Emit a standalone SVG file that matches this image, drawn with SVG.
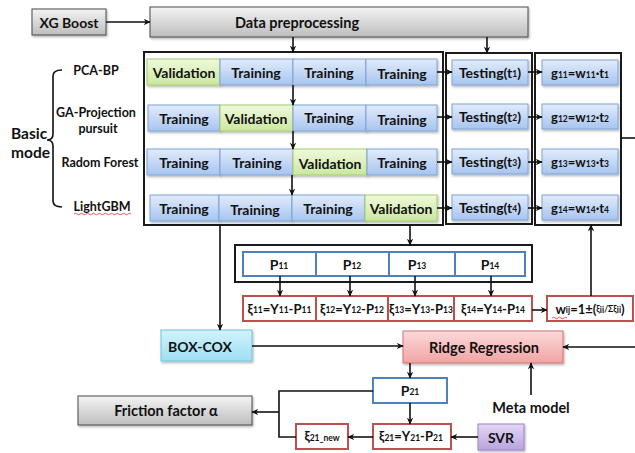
<svg xmlns="http://www.w3.org/2000/svg" width="635" height="453" viewBox="0 0 635 453">
  <defs>
    <linearGradient id="gGray" x1="0" y1="0" x2="0" y2="1">
      <stop offset="0" stop-color="#f4f4f4"/>
      <stop offset="1" stop-color="#bdbdbd"/>
    </linearGradient>
    <linearGradient id="gBlue" x1="0" y1="0" x2="0" y2="1">
      <stop offset="0" stop-color="#e2ecfb"/>
      <stop offset="1" stop-color="#a7c4ef"/>
    </linearGradient>
    <linearGradient id="gGreen" x1="0" y1="0" x2="0" y2="1">
      <stop offset="0" stop-color="#f0f9dc"/>
      <stop offset="1" stop-color="#cbe79f"/>
    </linearGradient>
    <linearGradient id="gCyan" x1="0" y1="0" x2="0" y2="1">
      <stop offset="0" stop-color="#d2f3fc"/>
      <stop offset="1" stop-color="#9ddff3"/>
    </linearGradient>
    <linearGradient id="gPink" x1="0" y1="0" x2="0" y2="1">
      <stop offset="0" stop-color="#fcdada"/>
      <stop offset="1" stop-color="#f1a3a3"/>
    </linearGradient>
    <linearGradient id="gPurple" x1="0" y1="0" x2="0" y2="1">
      <stop offset="0" stop-color="#e2d7f3"/>
      <stop offset="1" stop-color="#b9a3de"/>
    </linearGradient>
    <filter id="shadow" x="-10%" y="-20%" width="130%" height="150%">
      <feDropShadow dx="1" dy="1.5" stdDeviation="1" flood-color="#000" flood-opacity="0.3"/>
    </filter>
    <marker id="arrow" viewBox="0 0 10 10" refX="9" refY="5" markerWidth="7" markerHeight="7" orient="auto-start-reverse" markerUnits="userSpaceOnUse">
      <path d="M0,0.5 L10,5 L0,9.5 L3,5 Z" fill="#111"/>
    </marker>
    <style>
      text { font-family: Lato, "Open Sans", "Liberation Sans", sans-serif; font-weight: bold; fill: #111; text-anchor: middle; dominant-baseline: central; }
      .t14 { font-size: 14px; }
      .t145 { font-size: 14.5px; }
      .t13 { font-size: 13px; }
      .t12 { font-size: 12.5px; }
      .t15 { font-size: 15.5px; text-anchor: start; }
      .sub { font-size: 8.5px; }
      .gray { fill: url(#gGray); stroke: #4a4a4a; stroke-width: 1; filter: url(#shadow); }
      .blue { fill: url(#gBlue); stroke: #7fa4d9; stroke-width: 1; filter: url(#shadow); }
      .green { fill: url(#gGreen); stroke: #a3cf6a; stroke-width: 1; filter: url(#shadow); }
      .cyan { fill: url(#gCyan); stroke: #72c3de; stroke-width: 1; filter: url(#shadow); }
      .pink { fill: url(#gPink); stroke: #d47474; stroke-width: 1; filter: url(#shadow); }
      .purple { fill: url(#gPurple); stroke: #9c84c9; stroke-width: 1; filter: url(#shadow); }
      .frame { fill: none; stroke: #1a1a1a; stroke-width: 2; }
      .pbox { fill: #fff; stroke: #4f81bd; stroke-width: 2; }
      .ebox { fill: #fff; stroke: #c0504d; stroke-width: 2; }
      .wire { fill: none; stroke: #111; stroke-width: 1.6; }
      .arr { fill: none; stroke: #111; stroke-width: 1.6; marker-end: url(#arrow); }
      .squig { fill: none; stroke: #e03030; stroke-width: 0.8; }
    </style>
  </defs>

  <rect width="635" height="453" fill="#fff"/>

  <!-- input and preprocessing -->
  <g id="xgboost">
    <rect class="gray" x="32" y="9" width="74" height="26"/>
    <text class="t14" x="69" y="22">XG Boost</text>
  </g>
  <g id="preprocessing">
    <rect class="gray" x="150" y="7" width="378" height="30"/>
    <text class="t145" x="297" y="22">Data preprocessing</text>
  </g>

  <!-- base model labels and brace -->
  <g id="basic-mode">
    <text class="t15" x="11" y="133">Basic</text>
    <text class="t15" x="11" y="152">mode</text>
    <path class="wire" d="M62,70 Q53,70 53,76 L53,134 Q53,140 47,140 Q53,140 53,146 L53,201 Q53,207 62,207"/>
  </g>
  <g id="model-labels">
    <text class="t12" x="96" y="70">PCA-BP</text>
    <text class="t12" x="96" y="112">GA-Projection</text>
    <text class="t12" x="98" y="128">pursuit</text>
    <text class="t12" x="100" y="162">Radom Forest</text>
    <text class="t12" x="102" y="206">LightGBM</text>
    <path class="squig" d="M74,214 q1.5,-1.5 3,0 t3,0 t3,0 t3,0 t3,0 t3,0 t3,0 t3,0 t3,0 t3,0 t3,0 t3,0 t3,0 t3,0 t3,0 t3,0 t3,0 t3,0 t3,0"/>
  </g>

  <!-- cross-validation folds -->
  <g id="folds">
    <rect class="frame" x="144" y="52" width="299" height="173"/>
    <g id="fold-1">
      <rect class="green" x="147" y="59" width="73" height="26"/>
      <rect class="blue" x="220" y="59" width="73" height="26"/>
      <rect class="blue" x="293" y="59" width="73" height="26"/>
      <rect class="blue" x="366" y="59" width="71" height="26"/>
      <text class="t14" x="184" y="72">Validation</text>
      <text class="t14" x="256" y="72">Training</text>
      <text class="t14" x="329" y="72">Training</text>
      <text class="t14" x="402" y="73">Training</text>
    </g>
    <g id="fold-2">
      <rect class="blue" x="148" y="105" width="72" height="26"/>
      <rect class="green" x="220" y="105" width="73" height="26"/>
      <rect class="blue" x="293" y="105" width="73" height="26"/>
      <rect class="blue" x="366" y="105" width="71" height="26"/>
      <text class="t14" x="184" y="118">Training</text>
      <text class="t14" x="256" y="118">Validation</text>
      <text class="t14" x="329" y="117">Training</text>
      <text class="t14" x="402" y="119">Training</text>
    </g>
    <g id="fold-3">
      <rect class="blue" x="147" y="149" width="73" height="26"/>
      <rect class="blue" x="220" y="149" width="73" height="26"/>
      <rect class="green" x="293" y="149" width="74" height="26"/>
      <rect class="blue" x="367" y="149" width="70" height="26"/>
      <text class="t14" x="184" y="162">Training</text>
      <text class="t14" x="257" y="162">Training</text>
      <text class="t14" x="330" y="163">Validation</text>
      <text class="t14" x="402" y="162">Training</text>
    </g>
    <g id="fold-4">
      <rect class="blue" x="150" y="195" width="69" height="26"/>
      <rect class="blue" x="219" y="195" width="73" height="26"/>
      <rect class="blue" x="292" y="195" width="73" height="26"/>
      <rect class="green" x="365" y="195" width="72" height="26"/>
      <text class="t14" x="184" y="208">Training</text>
      <text class="t14" x="255" y="209">Training</text>
      <text class="t14" x="328" y="208">Training</text>
      <text class="t14" x="401" y="208">Validation</text>
    </g>
  </g>

  <!-- testing stage -->
  <g id="testing">
    <rect class="frame" x="446" y="53" width="86" height="171"/>
    <g id="testing-1">
      <rect class="blue" x="452" y="60" width="76" height="25"/>
      <text class="t14" x="490" y="72">Testing(t<tspan class="sub" dy="2">1</tspan><tspan dy="-2">)</tspan></text>
    </g>
    <g id="testing-2">
      <rect class="blue" x="452" y="104" width="76" height="25"/>
      <text class="t14" x="490" y="116">Testing(t<tspan class="sub" dy="2">2</tspan><tspan dy="-2">)</tspan></text>
    </g>
    <g id="testing-3">
      <rect class="blue" x="452" y="149" width="76" height="25"/>
      <text class="t14" x="490" y="161">Testing(t<tspan class="sub" dy="2">3</tspan><tspan dy="-2">)</tspan></text>
    </g>
    <g id="testing-4">
      <rect class="blue" x="452" y="195" width="76" height="25"/>
      <text class="t14" x="490" y="207">Testing(t<tspan class="sub" dy="2">4</tspan><tspan dy="-2">)</tspan></text>
    </g>
  </g>

  <!-- weighted outputs -->
  <g id="weights">
    <rect class="frame" x="535" y="53" width="86" height="172"/>
    <g id="g11">
      <rect class="blue" x="542" y="60" width="76" height="25"/>
      <text class="t13" x="580" y="73">g<tspan class="sub" dy="1.5">11</tspan><tspan dy="-1.5">=w</tspan><tspan class="sub" dy="1.5">11</tspan><tspan dy="-1.5">·t</tspan><tspan class="sub" dy="1.5">1</tspan></text>
    </g>
    <g id="g12">
      <rect class="blue" x="542" y="104" width="76" height="25"/>
      <text class="t13" x="580" y="117">g<tspan class="sub" dy="1.5">12</tspan><tspan dy="-1.5">=w</tspan><tspan class="sub" dy="1.5">12</tspan><tspan dy="-1.5">·t</tspan><tspan class="sub" dy="1.5">2</tspan></text>
    </g>
    <g id="g13">
      <rect class="blue" x="542" y="149" width="76" height="25"/>
      <text class="t13" x="580" y="162">g<tspan class="sub" dy="1.5">13</tspan><tspan dy="-1.5">=w</tspan><tspan class="sub" dy="1.5">13</tspan><tspan dy="-1.5">·t</tspan><tspan class="sub" dy="1.5">3</tspan></text>
    </g>
    <g id="g14">
      <rect class="blue" x="542" y="195" width="76" height="25"/>
      <text class="t13" x="580" y="208">g<tspan class="sub" dy="1.5">14</tspan><tspan dy="-1.5">=w</tspan><tspan class="sub" dy="1.5">14</tspan><tspan dy="-1.5">·t</tspan><tspan class="sub" dy="1.5">4</tspan></text>
    </g>
  </g>

  <!-- fold predictions -->
  <g id="predictions">
    <rect class="frame" x="235" y="245" width="297" height="37"/>
    <g id="p11">
      <rect class="pbox" x="243" y="252" width="73" height="24"/>
      <text class="t14" x="279" y="264">P<tspan class="sub" dy="2">11</tspan></text>
    </g>
    <g id="p12">
      <rect class="pbox" x="316" y="252" width="73" height="24"/>
      <text class="t14" x="352" y="264">P<tspan class="sub" dy="2">12</tspan></text>
    </g>
    <g id="p13">
      <rect class="pbox" x="389" y="252" width="66" height="24"/>
      <text class="t14" x="417" y="264">P<tspan class="sub" dy="2">13</tspan></text>
    </g>
    <g id="p14">
      <rect class="pbox" x="455" y="252" width="70" height="24"/>
      <text class="t14" x="490" y="264">P<tspan class="sub" dy="2">14</tspan></text>
    </g>
  </g>

  <!-- residuals -->
  <g id="residuals">
    <g id="e11">
      <rect class="ebox" x="243" y="296" width="73" height="25"/>
      <text class="t13" x="279.5" y="308.5">ξ<tspan class="sub" dy="1.5">11</tspan><tspan dy="-1.5">=Y</tspan><tspan class="sub" dy="1.5">11</tspan><tspan dy="-1.5">-P</tspan><tspan class="sub" dy="1.5">11</tspan></text>
    </g>
    <g id="e12">
      <rect class="ebox" x="316" y="296" width="72" height="25"/>
      <text class="t13" x="352" y="308.5">ξ<tspan class="sub" dy="1.5">12</tspan><tspan dy="-1.5">=Y</tspan><tspan class="sub" dy="1.5">12</tspan><tspan dy="-1.5">-P</tspan><tspan class="sub" dy="1.5">12</tspan></text>
    </g>
    <g id="e13">
      <rect class="ebox" x="388" y="296" width="66" height="25"/>
      <text class="t13" x="421" y="308.5">ξ<tspan class="sub" dy="1.5">13</tspan><tspan dy="-1.5">=Y</tspan><tspan class="sub" dy="1.5">13</tspan><tspan dy="-1.5">-P</tspan><tspan class="sub" dy="1.5">13</tspan></text>
    </g>
    <g id="e14">
      <rect class="ebox" x="454" y="296" width="78" height="25"/>
      <text class="t13" x="493" y="308.5">ξ<tspan class="sub" dy="1.5">14</tspan><tspan dy="-1.5">=Y</tspan><tspan class="sub" dy="1.5">14</tspan><tspan dy="-1.5">-P</tspan><tspan class="sub" dy="1.5">14</tspan></text>
    </g>
  </g>
  <g id="weight-rule">
    <rect class="ebox" x="547" y="296" width="86" height="25"/>
    <text class="t13" x="590" y="308.5">w<tspan class="sub" dy="1.5">ij</tspan><tspan dy="-1.5">=1±(</tspan><tspan class="sub">ξ<tspan dy="1">ii</tspan><tspan dy="-1">/Σξ</tspan><tspan dy="1">ii</tspan></tspan><tspan dy="-1">)</tspan></text>
    <path class="squig" d="M552,318 q1.5,-1.5 3,0 t3,0 t3,0 t3,0 t3,0"/>
  </g>

  <!-- meta stage -->
  <g id="box-cox">
    <rect class="cyan" x="161" y="330" width="91" height="31"/>
    <text class="t14" x="200" y="346">BOX-COX</text>
  </g>
  <g id="ridge-regression">
    <rect class="pink" x="403" y="331" width="160" height="32"/>
    <text class="t145" x="484" y="347">Ridge Regression</text>
  </g>
  <g id="meta-model">
    <text class="t145" x="531" y="407">Meta model</text>
  </g>
  <g id="p21">
    <rect class="pbox" x="373" y="378" width="74" height="25"/>
    <text class="t14" x="410" y="390">P<tspan class="sub" dy="2">21</tspan></text>
  </g>
  <g id="friction-factor">
    <rect class="gray" x="78" y="396" width="174" height="29"/>
    <text class="t145" x="166" y="410">Friction factor α</text>
  </g>
  <g id="e21-new">
    <rect class="ebox" x="296" y="424" width="52" height="25"/>
    <text class="t13" x="322" y="436">ξ<tspan class="sub" dy="1.5">21_new</tspan></text>
  </g>
  <g id="e21">
    <rect class="ebox" x="373" y="424" width="78" height="25"/>
    <text class="t13" x="411" y="436">ξ<tspan class="sub" dy="1.5">21</tspan><tspan dy="-1.5">=Y</tspan><tspan class="sub" dy="1.5">21</tspan><tspan dy="-1.5">-P</tspan><tspan class="sub" dy="1.5">21</tspan></text>
  </g>
  <g id="svr">
    <rect class="purple" x="478" y="424" width="46" height="26"/>
    <text class="t14" x="501" y="437">SVR</text>
  </g>

  <!-- connectors -->
  <g id="connectors">
    <path class="arr" d="M106,22 L150,22"/>
    <path class="arr" d="M293,37 L293,52"/>
    <path class="arr" d="M487,37 L487,53"/>
    <path class="arr" d="M293,85 L293,105"/>
    <path class="arr" d="M293,131 L293,149"/>
    <path class="arr" d="M292,175 L292,195"/>
    <path class="arr" d="M437,72 L452,72"/>
    <path class="arr" d="M437,117 L452,117"/>
    <path class="arr" d="M437,162 L452,162"/>
    <path class="arr" d="M437,208 L452,208"/>
    <path class="arr" d="M528,72 L542,72"/>
    <path class="arr" d="M528,117 L542,117"/>
    <path class="arr" d="M528,162 L542,162"/>
    <path class="arr" d="M528,208 L542,208"/>
    <path class="wire" d="M621,138 L635,138"/>
    <path class="arr" d="M410,225 L410,245"/>
    <path class="arr" d="M280,276 L280,296"/>
    <path class="arr" d="M350,276 L350,296"/>
    <path class="arr" d="M415,276 L415,296"/>
    <path class="arr" d="M491,276 L491,296"/>
    <path class="arr" d="M532,310 L547,310"/>
    <path class="arr" d="M591,296 L591,225"/>
    <path class="arr" d="M220,225 L220,330"/>
    <path class="arr" d="M252,346 L403,346"/>
    <path class="arr" d="M635,347 L563,347"/>
    <path class="arr" d="M531,395 L531,363"/>
    <path class="arr" d="M410,363 L410,378"/>
    <path class="arr" d="M410,403 L410,424"/>
    <path class="wire" d="M373,391 L279,391 L279,437 L296,437"/>
    <path class="arr" d="M279,412 L252,412"/>
    <path class="arr" d="M373,437 L348,437"/>
    <path class="arr" d="M478,437 L451,437"/>
  </g>
</svg>
